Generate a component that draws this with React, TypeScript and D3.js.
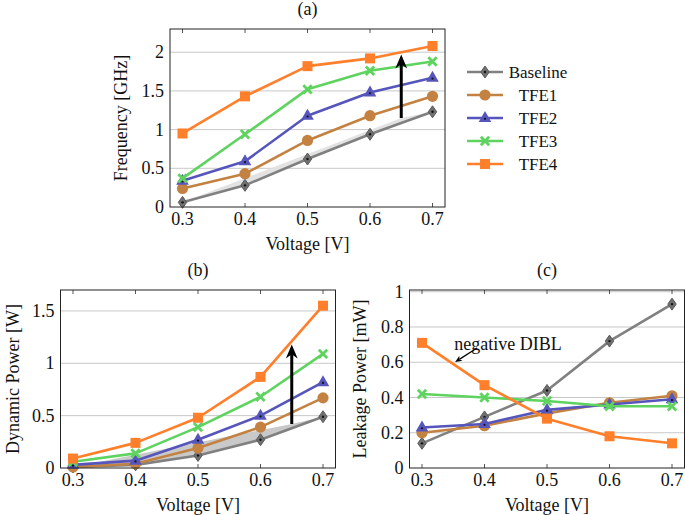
import React, { useRef, useEffect } from 'react';
import * as d3 from 'd3';

// x values shared by all three panels
const voltages = [0.3, 0.4, 0.5, 0.6, 0.7];
const seriesNames = ['Baseline', 'TFE1', 'TFE2', 'TFE3', 'TFE4'];

// (a) frequency [GHz]
const freqBaseline = [0.06, 0.28, 0.62, 0.94, 1.23];
const freqTFE1 = [0.24, 0.43, 0.86, 1.18, 1.43];
const freqTFE2 = [0.34, 0.59, 1.18, 1.48, 1.67];
const freqTFE3 = [0.37, 0.94, 1.52, 1.76, 1.88];
const freqTFE4 = [0.95, 1.43, 1.82, 1.92, 2.08];

// (b) dynamic power [W]
const dynBaseline = [0.01, 0.03, 0.12, 0.27, 0.49];
const dynTFE1 = [0.01, 0.04, 0.19, 0.39, 0.67];
const dynTFE2 = [0.03, 0.07, 0.27, 0.5, 0.82];
const dynTFE3 = [0.06, 0.14, 0.39, 0.68, 1.09];
const dynTFE4 = [0.09, 0.24, 0.48, 0.87, 1.55];

// (c) leakage power [mW]
const leakBaseline = [0.14, 0.29, 0.44, 0.72, 0.93];
const leakTFE1 = [0.2, 0.24, 0.31, 0.37, 0.41];
const leakTFE2 = [0.23, 0.25, 0.33, 0.36, 0.39];
const leakTFE3 = [0.42, 0.4, 0.38, 0.35, 0.35];
const leakTFE4 = [0.71, 0.47, 0.28, 0.18, 0.14];

// tick values
const xTicks = [0.3, 0.4, 0.5, 0.6, 0.7];
const freqTicks = [0, 0.5, 1, 1.5, 2];
const dynTicks = [0, 0.5, 1, 1.5];
const leakTicks = [0, 0.2, 0.4, 0.6, 0.8, 1];

// improvement arrows: [x, from, to]
const freqArrow = [0.65, 1.15, 1.97];
const dynArrow = [0.65, 0.42, 1.18];

const colors = ['#808080', '#c38241', '#5555bb', '#5fd35f', '#ff7f2a'];
const markers = ['diamond', 'circle', 'triangle', 'cross', 'square'];
const FONT = 'Liberation Serif, DejaVu Serif, serif';

const panels = [
  {
    title: '(a)', left: 170, top: 29, w: 275, h: 178, ymax: 2.3,
    ylabel: 'Frequency [GHz]', ylabelOff: 49, ticks: freqTicks,
    series: [freqBaseline, freqTFE1, freqTFE2, freqTFE3, freqTFE4],
    arrow: freqArrow, shade: '#e2e2e2',
  },
  {
    title: '(b)', left: 60.5, top: 290, w: 275, h: 178, ymax: 1.7,
    ylabel: 'Dynamic Power [W]', ylabelOff: 48, ticks: dynTicks,
    series: [dynBaseline, dynTFE1, dynTFE2, dynTFE3, dynTFE4],
    arrow: dynArrow, shade: '#c9c9c9',
  },
  {
    title: '(c)', left: 409.5, top: 290, w: 275, h: 178, ymax: 1.01,
    ylabel: 'Leakage Power [mW]', ylabelOff: 50, ticks: leakTicks,
    series: [leakBaseline, leakTFE1, leakTFE2, leakTFE3, leakTFE4],
    arrow: null, shade: null,
  },
];

function drawMarker(g, type, color, x, y) {
  const m = g.append('g').attr('transform', `translate(${x},${y})`);
  if (type === 'diamond') {
    m.append('path').attr('d', 'M0,-6L4.2,0L0,6L-4.2,0Z')
      .attr('fill', '#707070').attr('stroke', '#5a5a5a').attr('stroke-width', 1);
    m.append('circle').attr('r', 1.2).attr('fill', '#111');
  } else if (type === 'circle') {
    m.append('circle').attr('r', 5.6).attr('fill', color);
  } else if (type === 'triangle') {
    m.append('path').attr('d', 'M0,-7L6.3,4L-6.3,4Z').attr('fill', color);
    m.append('circle').attr('cy', 0.8).attr('r', 1.1).attr('fill', '#111');
  } else if (type === 'cross') {
    m.append('path').attr('d', 'M-4.2,-4.2L4.2,4.2M-4.2,4.2L4.2,-4.2')
      .attr('stroke', color).attr('stroke-width', 2.8);
  } else {
    m.append('rect').attr('x', -5).attr('y', -5).attr('width', 10).attr('height', 10)
      .attr('fill', color);
  }
}

function drawArrowHead(g, x, y, angle, size, color) {
  // stealth style head, tip at (x, y), pointing along angle (radians)
  const pts = [[0, 0], [-size, -size * 0.42], [-size * 0.7, 0], [-size, size * 0.42]];
  const c = Math.cos(angle), s = Math.sin(angle);
  const d = pts.map(([px, py], i) => `${i ? 'L' : 'M'}${x + px * c - py * s},${y + px * s + py * c}`).join('') + 'Z';
  g.append('path').attr('d', d).attr('fill', color);
}

function label(g, x, y, txt, anchor = 'middle', size = 18) {
  return g.append('text').attr('x', x).attr('y', y).attr('text-anchor', anchor)
    .attr('font-family', FONT).attr('font-size', size).attr('fill', '#111').text(txt);
}

const App = () => {
  const ref = useRef(null);

  useEffect(() => {
    const svg = d3.select(ref.current);
    svg.selectAll('*').remove();

    panels.forEach((p) => {
      const x = d3.scaleLinear().domain([0.28, 0.72]).range([p.left, p.left + p.w]);
      const y = d3.scaleLinear().domain([0, p.ymax]).range([p.top + p.h, p.top]);
      const g = svg.append('g');
      const bottom = p.top + p.h;

      // grid
      g.selectAll('line.grid').data(p.ticks.filter((t) => t > 0)).enter().append('line')
        .attr('x1', p.left).attr('x2', p.left + p.w)
        .attr('y1', (d) => y(d)).attr('y2', (d) => y(d))
        .attr('stroke', '#c8c8c8').attr('stroke-width', 1);

      // gray shaded wedge between baseline and arrow base
      if (p.shade) {
        const base = p.series[0];
        const upper = [[voltages[0], base[0]], [p.arrow[0], p.arrow[1]], [voltages[4], base[4]]];
        const lower = voltages.map((v, i) => [v, base[i]]).reverse();
        g.append('path')
          .attr('d', d3.line().x((d) => x(d[0])).y((d) => y(d[1]))(upper.concat(lower)) + 'Z')
          .attr('fill', p.shade);
      }

      // ticks
      xTicks.forEach((t) => {
        g.append('line').attr('x1', x(t)).attr('x2', x(t)).attr('y1', bottom).attr('y2', bottom - 4)
          .attr('stroke', '#555');
        g.append('line').attr('x1', x(t)).attr('x2', x(t)).attr('y1', p.top).attr('y2', p.top + 4)
          .attr('stroke', '#555');
        label(g, x(t), bottom + 18, String(t));
      });
      p.ticks.forEach((t) => label(g, p.left - 6, y(t) + 6, String(t), 'end'));

      // series
      const line = d3.line().x((d) => x(d[0])).y((d) => y(d[1]));
      p.series.forEach((vals, si) => {
        const pts = voltages.map((v, i) => [v, vals[i]]);
        g.append('path').attr('d', line(pts)).attr('fill', 'none')
          .attr('stroke', colors[si]).attr('stroke-width', 2.6).attr('stroke-linejoin', 'round');
        pts.forEach((d) => drawMarker(g, markers[si], colors[si], x(d[0]), y(d[1])));
      });

      // improvement arrow
      if (p.arrow) {
        const ax = x(p.arrow[0]);
        const y1 = y(p.arrow[1]);
        const y2 = y(p.arrow[2]);
        g.append('line').attr('x1', ax).attr('x2', ax).attr('y1', y1).attr('y2', y2 + 8)
          .attr('stroke', '#000').attr('stroke-width', 3);
        drawArrowHead(g, ax, y2, -Math.PI / 2, 14, '#000');
      }

      // frame
      g.append('rect').attr('x', p.left).attr('y', p.top).attr('width', p.w).attr('height', p.h)
        .attr('fill', 'none').attr('stroke', '#222').attr('stroke-width', 1);

      // labels
      label(g, p.left + p.w / 2, p.top - 14, p.title);
      label(g, p.left + p.w / 2, bottom + 43, 'Voltage [V]');
      label(g, 0, 0, p.ylabel)
        .attr('transform', `translate(${p.left - p.ylabelOff},${p.top + p.h / 2}) rotate(-90)`)
        .attr('dominant-baseline', 'central');

      // annotation in (c)
      if (p.title === '(c)') {
        label(g, x(0.4376), y(0.67), 'negative DIBL');
        const tx = x(0.388), ty = y(0.681), hx = x(0.353), hy = y(0.601);
        const ang = Math.atan2(hy - ty, hx - tx);
        g.append('line').attr('x1', tx).attr('y1', ty)
          .attr('x2', hx - 5 * Math.cos(ang)).attr('y2', hy - 5 * Math.sin(ang))
          .attr('stroke', '#000').attr('stroke-width', 1.2);
        drawArrowHead(g, hx, hy, ang, 7, '#000');
      }
    });

    // legend
    const lg = svg.append('g');
    seriesNames.forEach((name, i) => {
      const ly = 72 + i * 23;
      lg.append('line').attr('x1', 467).attr('x2', 503).attr('y1', ly).attr('y2', ly)
        .attr('stroke', colors[i]).attr('stroke-width', 2.6);
      drawMarker(lg, markers[i], colors[i], 485, ly);
      label(lg, 538, ly + 6, name, 'middle', 17);
    });
  }, []);

  return (
    <svg ref={ref} width={685} height={515}
      style={{ position: 'absolute', left: 0, top: 0, background: '#fff' }} />
  );
};

export default App;
